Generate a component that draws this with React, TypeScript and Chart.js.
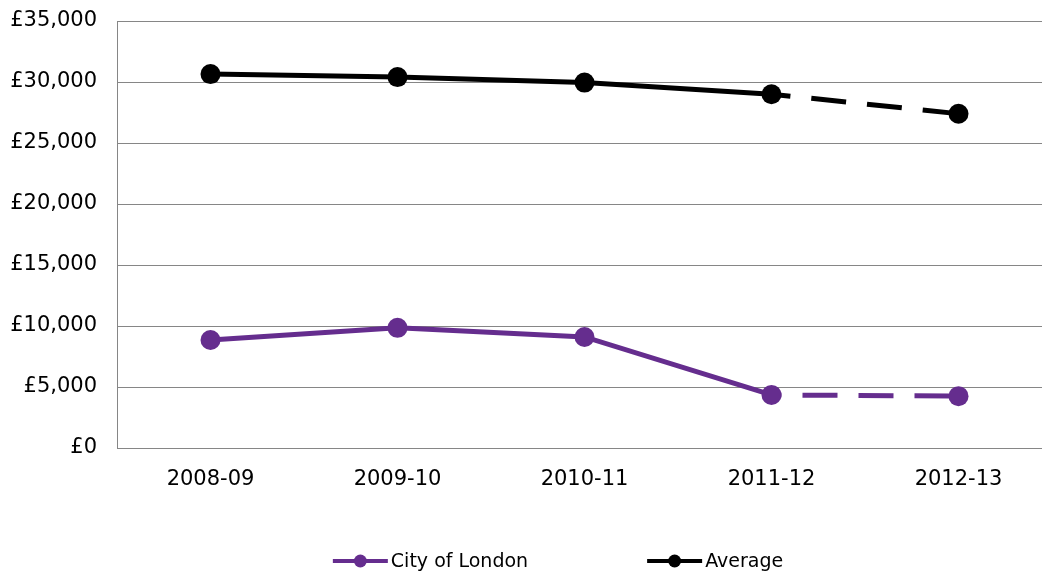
import React, { useEffect, useRef } from "react";
import { Chart, registerables } from "chart.js";

Chart.register(...registerables);

const categories = ["2008-09", "2009-10", "2010-11", "2011-12", "2012-13"];
const cityOfLondon = [8850, 9850, 9100, 4350, 4250];
const average = [30650, 30400, 29950, 29000, 27400];
const seriesLabels = ["City of London", "Average"];
const seriesColors = ["#652D8E", "#000000"];

const FONT = "DejaVu Sans, Verdana, sans-serif";
const CANVAS_W = 1062;
const CANVAS_H = 572;

const legendPlugin = {
  id: "lineLegend",
  afterDraw(chart: any) {
    const ctx = chart.ctx;
    ctx.save();
    ctx.font = `19px ${FONT}`;
    const markerW = 55;
    const textGap = 3;
    const itemGap = 119;
    const items = chart.data.datasets.map((ds: any) => ({
      label: ds.label,
      color: ds.borderColor,
      w: markerW + textGap + ctx.measureText(ds.label).width,
    }));
    const total = items.reduce((s: number, it: any) => s + it.w, 0) + itemGap * (items.length - 1);
    let x = 558 - total / 2;
    const y = 561;
    items.forEach((it: any) => {
      ctx.strokeStyle = it.color;
      ctx.lineWidth = 4;
      ctx.beginPath();
      ctx.moveTo(x, y);
      ctx.lineTo(x + markerW, y);
      ctx.stroke();
      ctx.fillStyle = it.color;
      ctx.beginPath();
      ctx.arc(x + markerW / 2, y, 6.5, 0, Math.PI * 2);
      ctx.fill();
      ctx.fillStyle = "#000";
      ctx.textBaseline = "middle";
      ctx.textAlign = "left";
      ctx.fillText(it.label, x + markerW + textGap, y + 1);
      x += it.w + itemGap;
    });
    ctx.restore();
  },
};

export default function App() {
  const ref = useRef<HTMLCanvasElement>(null);
  useEffect(() => {
    if (!ref.current) return;
    const dashSeg = (dash: number[], offset: number) => ({
      borderDash: (ctx: any) => (ctx.p0DataIndex === 3 ? dash : undefined),
      borderDashOffset: offset,
    });
    const chart = new Chart(ref.current, {
      type: "line",
      data: {
        labels: categories,
        datasets: [
          {
            label: seriesLabels[0],
            data: cityOfLondon,
            borderColor: seriesColors[0],
            backgroundColor: seriesColors[0],
            borderWidth: 5,
            pointRadius: 10,
            pointHoverRadius: 10,
            pointBorderWidth: 0,
            tension: 0,
            segment: dashSeg([35, 21], 25),
          },
          {
            label: seriesLabels[1],
            data: average,
            borderColor: seriesColors[1],
            backgroundColor: seriesColors[1],
            borderWidth: 5,
            pointRadius: 10,
            pointHoverRadius: 10,
            pointBorderWidth: 0,
            tension: 0,
            segment: dashSeg([35, 21], 16),
          },
        ],
      },
      options: {
        animation: false,
        responsive: false,
        devicePixelRatio: 1,
        layout: { padding: { top: 21, left: 0, right: 10, bottom: 0 } },
        plugins: {
          legend: { display: false },
          tooltip: { enabled: false },
        },
        scales: {
          x: {
            offset: true,
            grid: { display: false, drawTicks: false },
            border: { display: true, color: "#868686", width: 1 },
            ticks: { color: "#000", font: { family: FONT, size: 21 }, padding: 19, maxRotation: 0 },
            afterFit: (scale: any) => {
              scale.height = CANVAS_H - 448;
              scale.paddingLeft = 0;
              scale.paddingRight = 0;
            },
          },
          y: {
            min: 0,
            max: 35000,
            grid: { color: "#868686", lineWidth: 1, drawTicks: false },
            border: { display: true, color: "#868686", width: 1 },
            ticks: {
              stepSize: 5000,
              color: "#000",
              font: { family: FONT, size: 21 },
              padding: 20,
              callback: (v: any) => "£" + Number(v).toLocaleString("en-GB"),
            },
            afterFit: (scale: any) => {
              scale.width = 117;
              scale.paddingTop = 0;
              scale.paddingBottom = 0;
            },
          },
        },
      },
      plugins: [legendPlugin],
    });
    return () => chart.destroy();
  }, []);
  return (
    <div style={{ position: "fixed", left: 0, top: 0, width: 1042, height: 572, overflow: "hidden", background: "#fff" }}>
      <canvas ref={ref} width={CANVAS_W} height={CANVAS_H} style={{ display: "block", width: CANVAS_W, height: CANVAS_H }} />
    </div>
  );
}
